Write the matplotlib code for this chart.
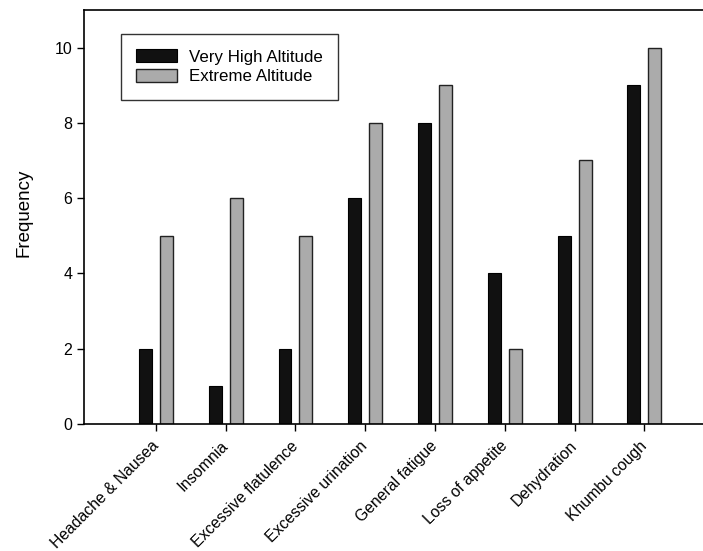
import numpy as np
import matplotlib
matplotlib.use("Agg")
import matplotlib.pyplot as plt

plt.rcParams['font.family'] = ['Liberation Sans', 'DejaVu Sans']

symptoms = ["Headache & Nausea", "Insomnia", "Excessive flatulence",
            "Excessive urination", "General fatigue", "Loss of appetite",
            "Dehydration", "Khumbu cough"]
very_high = [2, 1, 2, 6, 8, 4, 5, 9]
extreme = [5, 6, 5, 8, 9, 2, 7, 10]
yticks = [0, 2, 4, 6, 8, 10]

fig = plt.figure(figsize=(7.03, 5.51), dpi=100)
ax = fig.add_axes([0.1195, 0.2305, 0.8805, 0.7515])

x = np.arange(len(symptoms))
w = 0.185
ax.bar(x - 0.15, very_high, w, color="#111111", edgecolor="#000000",
       linewidth=0.8, label="Very High Altitude")
ax.bar(x + 0.15, extreme, w, color="#ababab", edgecolor="#222222",
       linewidth=1.0, label="Extreme Altitude")

ax.set_xlim(-1.03, 7.84)
ax.set_ylim(0, 11.0)
ax.set_yticks(yticks)
ax.set_xticks(x)
ax.set_xticklabels(symptoms, rotation=45, ha="right", va="center",
                   rotation_mode="anchor", fontsize=11.3)
ax.tick_params(axis="y", labelsize=11.5, length=5, width=1, direction="out")
ax.tick_params(axis="x", length=5, width=1, direction="out", pad=9)
ax.set_ylabel("Frequency", fontsize=13.5)
ax.yaxis.set_label_coords(-0.084, 0.51)
ax.spines["right"].set_visible(False)
for s in ["left", "top", "bottom"]:
    ax.spines[s].set_linewidth(1.2)

leg = ax.legend(loc="upper left", bbox_to_anchor=(0.046, 0.962), fontsize=12.2,
                frameon=True, fancybox=False, edgecolor="#000000",
                handlelength=2.4, handleheight=0.8, borderpad=0.9,
                labelspacing=0.25, handletextpad=0.7)
leg.get_frame().set_linewidth(1.0)

fig.savefig("out.png", dpi=100)
